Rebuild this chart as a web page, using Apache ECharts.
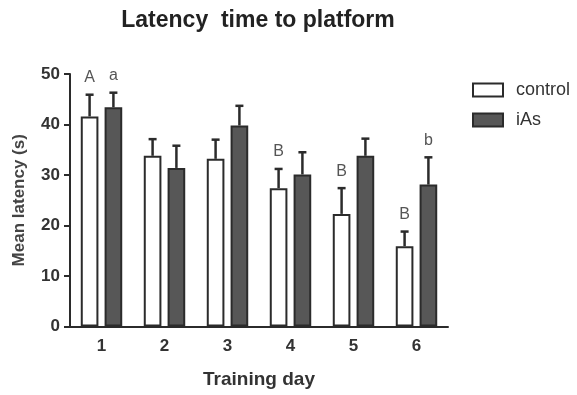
<!DOCTYPE html>
<html><head><meta charset="utf-8">
<script src="https://cdn.jsdelivr.net/npm/echarts@6/dist/echarts.min.js"></script>
<style>html,body{margin:0;padding:0;background:#fff}#c{width:577px;height:395px}</style>
</head><body><div id="c"></div>
<script>
const days = ['1', '2', '3', '4', '5', '6'];
const controlMean = [41.6, 33.8, 33.2, 27.4, 22.3, 15.9];
const controlErr = [4.3, 3.3, 3.8, 3.8, 5.1, 2.9];
const iasMean = [43.4, 31.4, 39.8, 30.1, 33.8, 28.1];
const iasErr = [2.9, 4.4, 3.9, 4.4, 3.4, 5.4];
const controlLetters = ['A', '', '', 'B', 'B', 'B'];
const iasLetters = ['a', '', '', '', '', 'b'];

const FONT = '"Liberation Sans", Arial, Helvetica, sans-serif';
const BAR_W = 0.28, BAR_GAP = 0.35;
const INK = '#2b2b2b';

function errSeries(name, means, errs, letters, side) {
  return {
    type: 'custom', name: name, z: 5, silent: true,
    data: means.map((m, i) => [i, m, errs[i]]),
    encode: { x: 0, y: 1 },
    renderItem: function (params, api) {
      const i = api.value(0), m = api.value(1), e = api.value(2);
      const band = api.size([1, 0])[0];
      const bw = band * BAR_W, gap = bw * BAR_GAP;
      const off = side * (bw + gap) / 2;
      const base = api.coord([i, m]);
      const top = api.coord([i, m + e]);
      const x = base[0] + off;
      const children = [
        { type: 'line', shape: { x1: x, y1: base[1], x2: x, y2: top[1] }, style: { stroke: INK, lineWidth: 2.5 } },
        { type: 'line', shape: { x1: x - 4, y1: top[1], x2: x + 4, y2: top[1] }, style: { stroke: INK, lineWidth: 2.5 } }
      ];
      const t = letters[params.dataIndex];
      if (t) {
        children.push({ type: 'text', x: x, y: top[1] - 9,
          style: { text: t, align: 'center', verticalAlign: 'bottom', font: '16px ' + FONT, fill: '#555' } });
      }
      return { type: 'group', children: children };
    }
  };
}

const chart = echarts.init(document.getElementById('c'), null, { renderer: 'canvas' });
chart.setOption({
  animation: false,
  backgroundColor: '#fff',
  title: {
    text: 'Latency  time to platform',
    left: 253, top: 4, textAlign: 'center',
    textStyle: { fontFamily: FONT, fontSize: 23, fontWeight: 'bold', color: '#222' }
  },
  legend: {
    data: ['control', 'iAs'],
    orient: 'vertical', left: 472, top: 80, padding: 0,
    itemWidth: 30, itemHeight: 13, itemGap: 10,
    icon: 'rect',
    textStyle: { fontFamily: FONT, fontSize: 18, color: '#333', lineHeight: 20, padding: [0, 0, 0, 8] }
  },
  grid: { left: 70, right: 129, top: 74, bottom: 68.5, containLabel: false },
  xAxis: {
    type: 'category', data: days,
    name: 'Training day', nameLocation: 'middle', nameGap: 44,
    nameTextStyle: { fontFamily: FONT, fontSize: 19, fontWeight: 'bold', color: '#333' },
    axisLine: { lineStyle: { color: INK, width: 2 } },
    axisTick: { alignWithLabel: true, length: 6, lineStyle: { color: INK, width: 2 } },
    axisLabel: { fontFamily: FONT, fontSize: 17, fontWeight: 'bold', color: '#333', margin: 11 }
  },
  yAxis: {
    type: 'value', min: 0, max: 50, interval: 10,
    name: 'Mean latency (s)', nameLocation: 'middle', nameGap: 42, nameRotate: 90,
    nameTextStyle: { fontFamily: FONT, fontSize: 17, fontWeight: 'bold', color: '#444' },
    axisLine: { show: true, lineStyle: { color: INK, width: 2 } },
    axisTick: { show: true, length: 6, lineStyle: { color: INK, width: 2 } },
    axisLabel: { fontFamily: FONT, fontSize: 17, fontWeight: 'bold', color: '#333', margin: 10 },
    splitLine: { show: false }
  },
  series: [
    { name: 'control', type: 'bar', data: controlMean, barWidth: (BAR_W * 100) + '%', barGap: (BAR_GAP * 100) + '%',
      itemStyle: { color: '#ffffff', borderColor: INK, borderWidth: 2 } },
    { name: 'iAs', type: 'bar', data: iasMean, barWidth: (BAR_W * 100) + '%', barGap: (BAR_GAP * 100) + '%',
      itemStyle: { color: '#575757', borderColor: INK, borderWidth: 2 } },
    errSeries('control err', controlMean, controlErr, controlLetters, -1),
    errSeries('iAs err', iasMean, iasErr, iasLetters, 1)
  ]
});
</script>
</body></html>
